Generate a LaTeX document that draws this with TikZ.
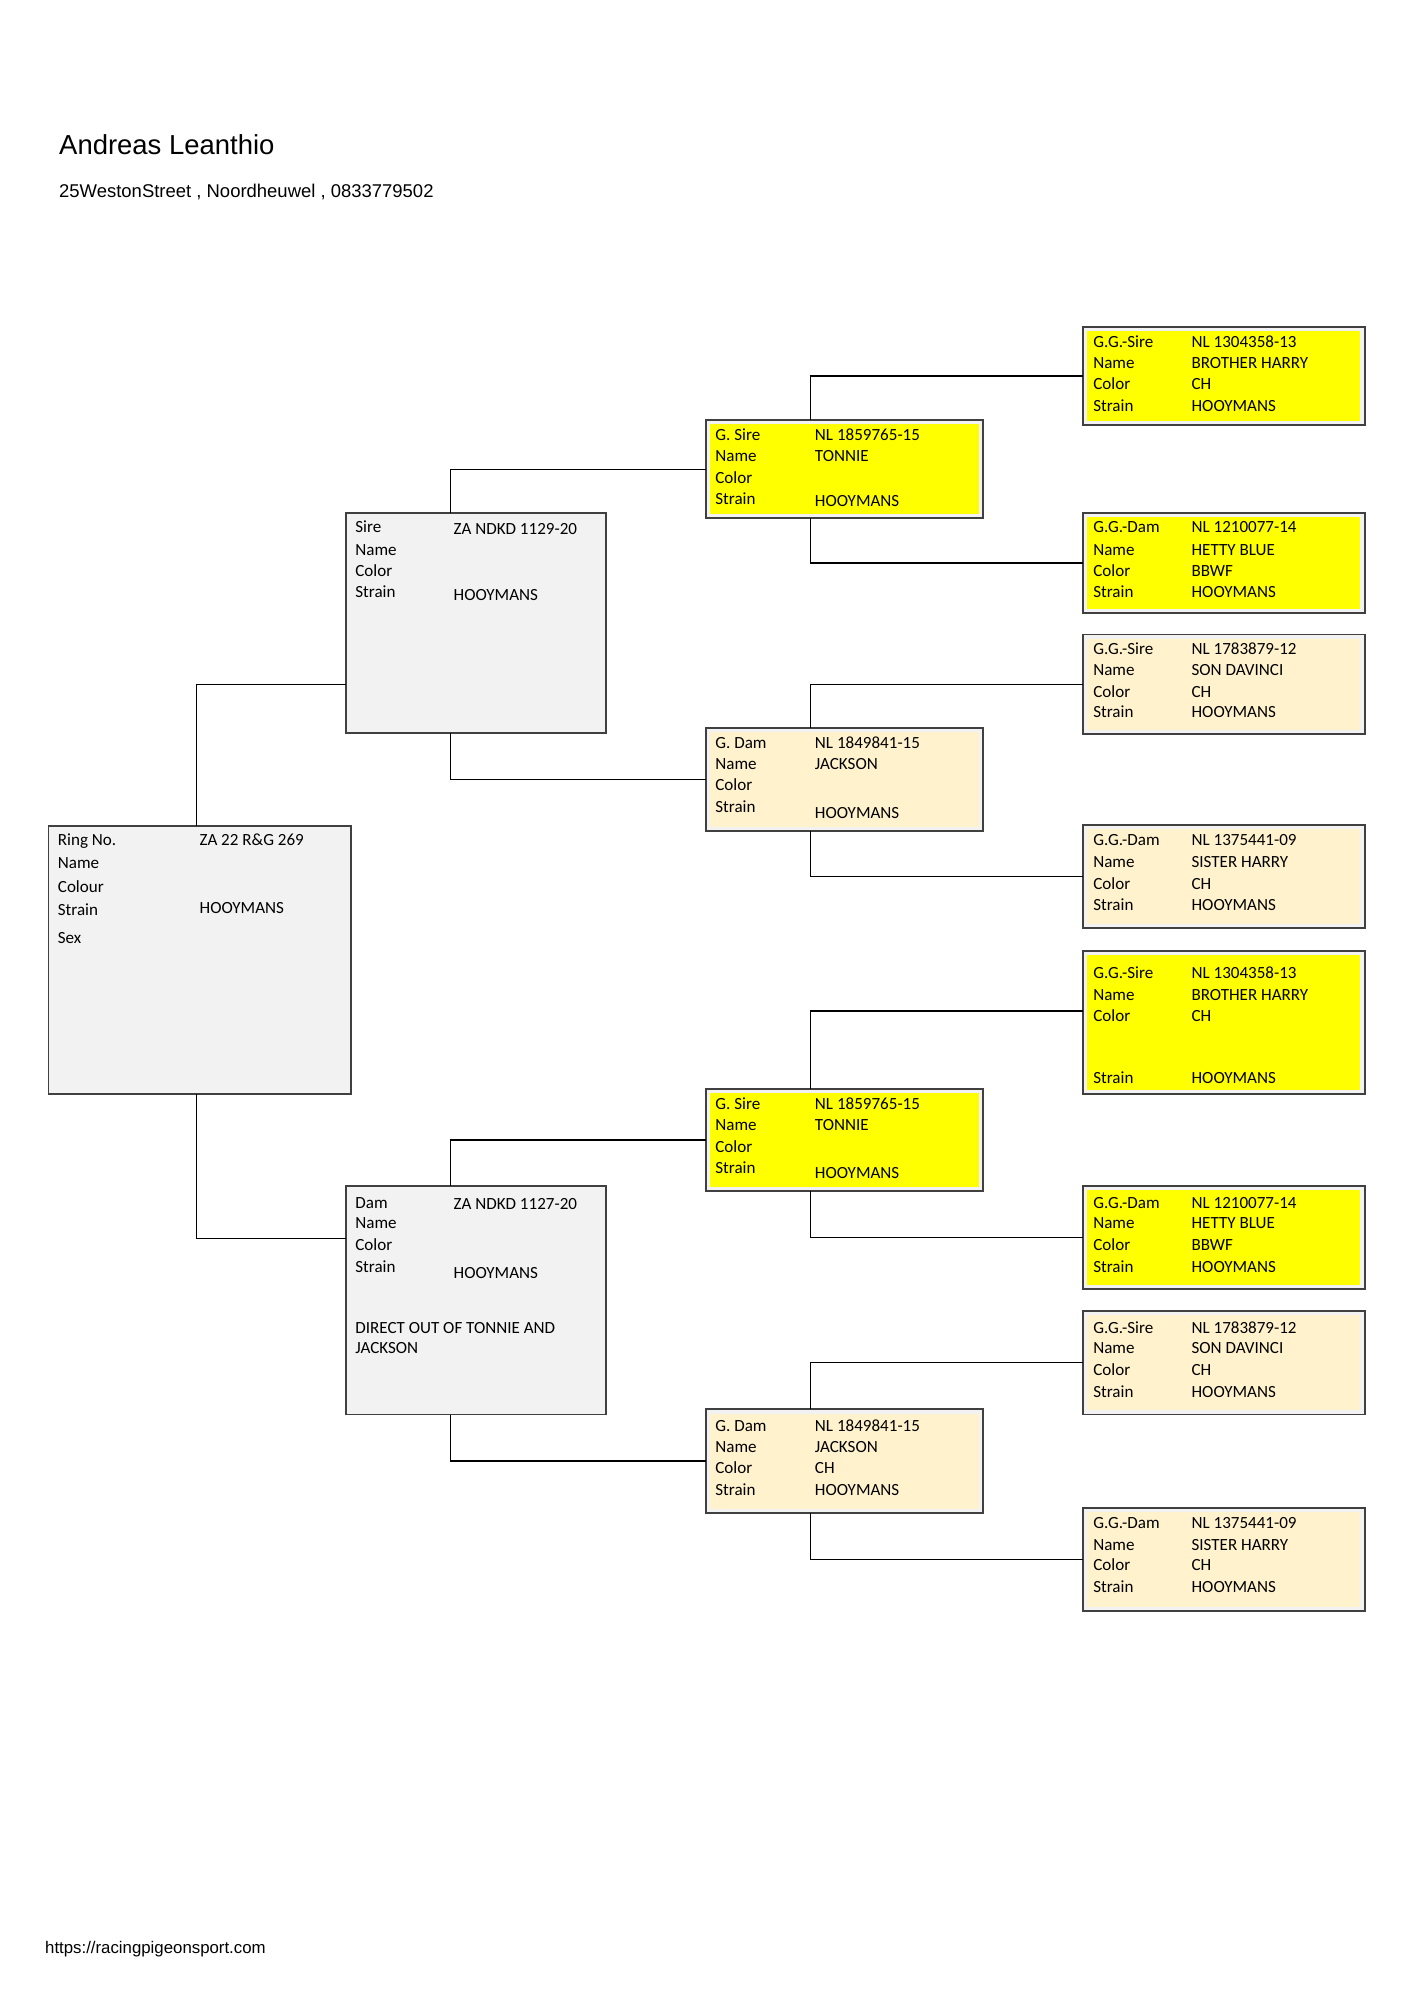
\documentclass[tikz,border=0pt]{standalone}
\usepackage{fontspec}
\usepackage{xcolor}
\newfontfamily\headfont{Liberation Sans}
\newfontfamily\cellfont{Carlito}
\definecolor{boxgray}{HTML}{F2F2F2}
\definecolor{boxline}{HTML}{404040}
\definecolor{sireyellow}{HTML}{FFFF00}
\definecolor{damcream}{HTML}{FFF2CC}
\def\px{0.018958cm}
\tikzset{
  pbox/.style={draw=boxline, fill=boxgray, line width=0.8pt, rectangle, anchor=north west, inner sep=0pt, outer sep=0pt},
  sirebox/.style={pbox, path picture={\fill[sireyellow] ([shift={(1.8pt,-1.8pt)}]path picture bounding box.north west) rectangle ([shift={(-1.8pt,1.8pt)}]path picture bounding box.south east);}},
  dambox/.style={pbox, path picture={\fill[damcream] ([shift={(1.8pt,-1.8pt)}]path picture bounding box.north west) rectangle ([shift={(-1.8pt,1.8pt)}]path picture bounding box.south east);}},
  info/.style={anchor=west, inner sep=0pt, text height=4.7pt, text depth=0pt, font=\cellfont\fontsize{7.2}{9}\selectfont},
  head/.style={anchor=base west, inner sep=0pt, font=\headfont},
  link/.style={black, line width=0.55pt}
}
% label column and value column of one box
\newcommand{\pedrows}[4]{%
  \foreach \ly/\lab/\vy/\val [count=\k] in {#4} {
    \node[info] (#1l\k) at (#2,\ly) {\lab};
    \node[info] (#1v\k) at (#3,\vy) {\val};
  }}

\begin{document}
\begin{tikzpicture}[x=\px, y=-\px]
\useasboundingbox (0,0) rectangle (1107.7,1566.6);
% header and footer
\node[head, font=\headfont\fontsize{11.6}{14}\selectfont] (owner) at (46,121) {Andreas Leanthio};
\node[head, font=\headfont\fontsize{7.8}{9.5}\selectfont] (address) at (46,155) {25WestonStreet , Noordheuwel , 0833779502};
\node[head, font=\headfont\fontsize{7.1}{9}\selectfont] (site) at (35,1530) {https://racingpigeonsport.com};
% Draw the boxes (name/left/top/right/bottom)
\foreach \n/\xa/\ya/\xb/\yb in {subj/38/647/275/857, sire/271/402/475/574, dam/271/929/475/1108} {
  \node[pbox, minimum width={(\xb-\xa)*\px}, minimum height={(\yb-\ya)*\px}] (\n) at (\xa,\ya) {};
}
\foreach \n/\xa/\ya/\xb/\yb in {gs1/553/329/770/406, gs2/553/853/770/933, ggs1/848/256/1069/333, ggd1/848/402/1069/480, ggs3/848/745/1069/857, ggd3/848/929/1069/1010} {
  \node[sirebox, minimum width={(\xb-\xa)*\px}, minimum height={(\yb-\ya)*\px}] (\n) at (\xa,\ya) {};
}
\foreach \n/\xa/\ya/\xb/\yb in {gd1/553/570/770/651, gd2/553/1104/770/1185, ggs2/848/497/1069/575, ggd2/848/646/1069/727, ggs4/848/1027/1069/1108, ggd4/848/1181/1069/1262} {
  \node[dambox, minimum width={(\xb-\xa)*\px}, minimum height={(\yb-\ya)*\px}] (\n) at (\xa,\ya) {};
}
% Fill in the texts
\pedrows{subj}{45}{156}{658/Ring No./658/ZA 22 R\&G 269, 676/Name/676/, 695/Colour/695/, 713/Strain/711/HOOYMANS, 735/Sex/735/}
\pedrows{sire}{278}{355}{413/Sire/414/ZA NDKD 1129-20, 431/Name/431/, 447/Color/447/, 464/Strain/466/HOOYMANS}
\pedrows{dam}{278}{355}{942/Dam/943/ZA NDKD 1127-20, 958/Name/958/, 975/Color/975/, 992/Strain/997/HOOYMANS, 1040/DIRECT OUT OF TONNIE AND/1040/, 1056/JACKSON/1056/}
\pedrows{gs1}{560}{638}{341/G. Sire/341/NL 1859765-15, 357/Name/357/TONNIE, 374/Color/374/, 391/Strain/392/HOOYMANS}
\pedrows{gd1}{560}{638}{582/G. Dam/582/NL 1849841-15, 598/Name/598/JACKSON, 615/Color/615/, 632/Strain/637/HOOYMANS}
\pedrows{gs2}{560}{638}{865/G. Sire/865/NL 1859765-15, 881/Name/881/TONNIE, 898/Color/898/, 915/Strain/919/HOOYMANS}
\pedrows{gd2}{560}{638}{1117/G. Dam/1117/NL 1849841-15, 1133/Name/1133/JACKSON, 1150/Color/1150/CH, 1167/Strain/1167/HOOYMANS}
\pedrows{ggs1}{856}{933}{268/G.G.-Sire/268/NL 1304358-13, 284/Name/284/BROTHER HARRY, 301/Color/301/CH, 318/Strain/318/HOOYMANS}
\pedrows{ggd1}{856}{933}{413/G.G.-Dam/413/NL 1210077-14, 431/Name/431/HETTY BLUE, 447/Color/447/BBWF, 464/Strain/464/HOOYMANS}
\pedrows{ggs2}{856}{933}{508/G.G.-Sire/508/NL 1783879-12, 525/Name/525/SON DAVINCI, 542/Color/542/CH, 558/Strain/558/HOOYMANS}
\pedrows{ggd2}{856}{933}{658/G.G.-Dam/658/NL 1375441-09, 675/Name/675/SISTER HARRY, 692/Color/692/CH, 709/Strain/709/HOOYMANS}
\pedrows{ggs3}{856}{933}{762/G.G.-Sire/762/NL 1304358-13, 779/Name/779/BROTHER HARRY, 796/Color/796/CH, 844/Strain/844/HOOYMANS}
\pedrows{ggd3}{856}{933}{942/G.G.-Dam/942/NL 1210077-14, 958/Name/958/HETTY BLUE, 975/Color/975/BBWF, 992/Strain/992/HOOYMANS}
\pedrows{ggs4}{856}{933}{1040/G.G.-Sire/1040/NL 1783879-12, 1056/Name/1056/SON DAVINCI, 1073/Color/1073/CH, 1090/Strain/1090/HOOYMANS}
\pedrows{ggd4}{856}{933}{1193/G.G.-Dam/1193/NL 1375441-09, 1210/Name/1210/SISTER HARRY, 1226/Color/1226/CH, 1243/Strain/1243/HOOYMANS}
% Draw the connectors
\draw[link] ([shift={(116,0)}]subj.north west) |- ([shift={(0,134)}]sire.north west);
\draw[link] ([shift={(116,0)}]subj.south west) |- ([shift={(0,41)}]dam.north west);
\foreach \p/\a/\b in {sire/gs1/gd1, dam/gs2/gd2, gs1/ggs1/ggd1, gd1/ggs2/ggd2, gd2/ggs4/ggd4} {
  \draw[link] ([shift={(82,0)}]\p.north west) |- (\a.west);
  \draw[link] ([shift={(82,0)}]\p.south west) |- (\b.west);
}
\draw[link] ([shift={(82,0)}]gs2.north west) |- ([shift={(0,47)}]ggs3.north west);
\draw[link] ([shift={(82,0)}]gs2.south west) |- (ggd3.west);
\end{tikzpicture}
\end{document}
